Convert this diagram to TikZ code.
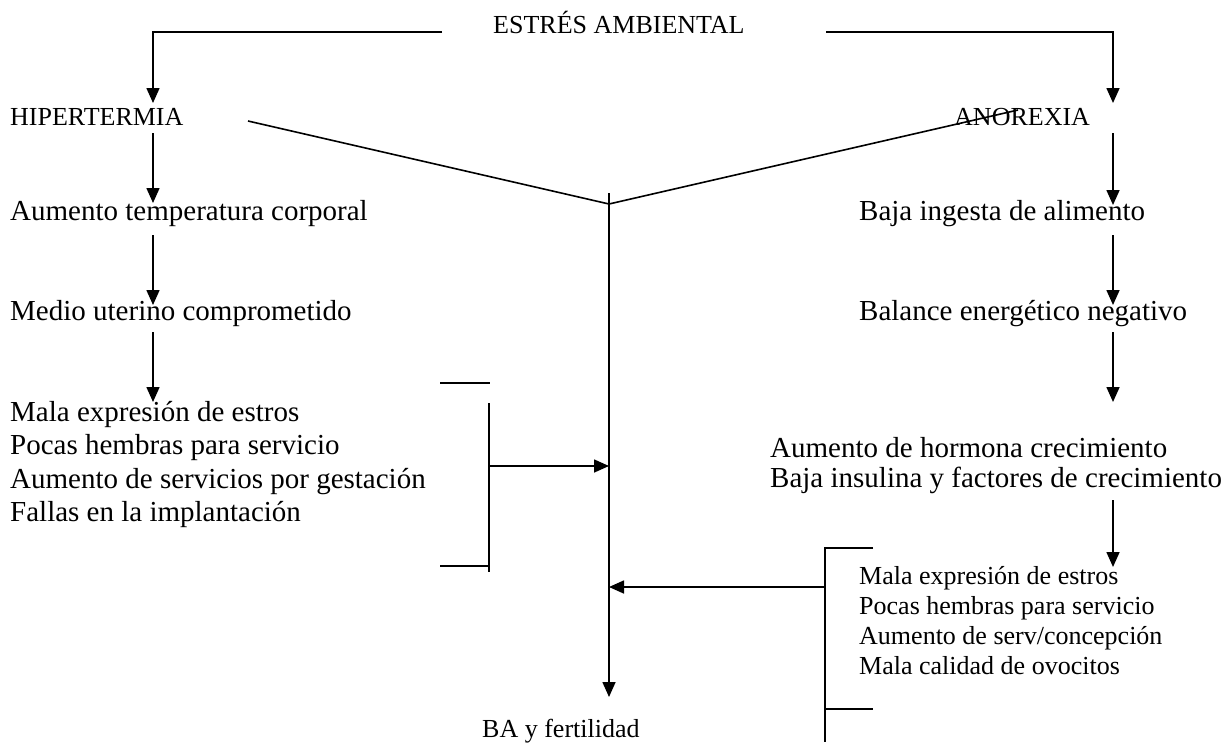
\documentclass[tikz,border=0pt]{standalone}
\usepackage{fontspec}
\setmainfont{Liberation Serif}
\usetikzlibrary{arrows.meta}
\begin{document}
\begin{tikzpicture}[x=1pt,y=-1pt,
  ln/.style={line width=1.6pt},
  arr/.style={ln,-{Triangle[length=15pt,width=13pt]}},
  big/.style={inner sep=0pt,anchor=base west,font=\fontsize{29}{33}\selectfont},
  small/.style={inner sep=0pt,anchor=base west,font=\fontsize{26}{30}\selectfont}]
\useasboundingbox (0,0) rectangle (1230,742);

% texts
\node[small] (estres) at (493,33) {ESTRÉS AMBIENTAL};
\node[small] (hiper) at (10,125) {HIPERTERMIA};
\node[small] (anor) at (954,125) {ANOREXIA};
\node[big] (temp) at (10,220) {Aumento temperatura corporal};
\node[big] (medio) at (10,320) {Medio uterino comprometido};
\node[big] (la) at (10,421) {Mala expresión de estros};
\node[big] (lb) at (10,454) {Pocas hembras para servicio};
\node[big] (lc) at (10,488) {Aumento de servicios por gestación};
\node[big] (ld) at (10,521) {Fallas en la implantación};
\node[big] (ingesta) at (859,220) {Baja ingesta de alimento};
\node[big] (balance) at (859,320) {Balance energético negativo};
\node[big] (horm) at (770,457) {Aumento de hormona crecimiento};
\node[big] (insul) at (770,487) {Baja insulina y factores de crecimiento};
\node[small] (ra) at (859,584) {Mala expresión de estros};
\node[small] (rb) at (859,614) {Pocas hembras para servicio};
\node[small] (rc) at (859,644) {Aumento de serv/concepción};
\node[small] (rd) at (859,674) {Mala calidad de ovocitos};
\node[small] (ba) at (482,737) {BA y fertilidad};

% connector points
\coordinate (eL) at (442,32);
\coordinate (eR) at (826,32);
\coordinate (hT) at (153,103);
\coordinate (aT) at (1113,103);
\coordinate (h1) at (153,133); \coordinate (h1e) at (153,203);
\coordinate (h2) at (153,235); \coordinate (h2e) at (153,305);
\coordinate (h3) at (153,332); \coordinate (h3e) at (153,402);
\coordinate (a1) at (1113,133); \coordinate (a1e) at (1113,205);
\coordinate (a2) at (1113,235); \coordinate (a2e) at (1113,305);
\coordinate (a3) at (1113,332); \coordinate (a3e) at (1113,402);
\coordinate (a4) at (1113,500); \coordinate (a4e) at (1113,567);
\coordinate (dL) at (248,121);
\coordinate (junc) at (609,204);
\coordinate (dR) at (1018,110);
\coordinate (cTop) at (609,193);
\coordinate (cBot) at (609,697);
\coordinate (cL) at (609,466);
\coordinate (cR) at (609,587);
% left bracket
\coordinate (lbT1) at (440,383); \coordinate (lbT2) at (490,383);
\coordinate (lbV1) at (489,403); \coordinate (lbV2) at (489,572);
\coordinate (lbB1) at (440,566); \coordinate (lbB2) at (489,566);
\coordinate (lbM) at (489,466);
% right bracket
\coordinate (rbT) at (873,548); \coordinate (rbC) at (825,548);
\coordinate (rbE) at (825,742);
\coordinate (rbB1) at (825,709); \coordinate (rbB2) at (873,709);
\coordinate (rbM) at (825,587);

% connectors
\draw[arr] (eL) -| (hT);
\draw[arr] (eR) -| (aT);
\draw[arr] (h1) -- (h1e);
\draw[arr] (h2) -- (h2e);
\draw[arr] (h3) -- (h3e);
\draw[arr] (a1) -- (a1e);
\draw[arr] (a2) -- (a2e);
\draw[arr] (a3) -- (a3e);
\draw[arr] (a4) -- (a4e);
\draw[ln] (dL) -- (junc) -- (dR);
\draw[arr] (cTop) -- (cBot);
\draw[ln] (lbT1) -- (lbT2);
\draw[ln] (lbV1) -- (lbV2);
\draw[ln] (lbB1) -- (lbB2);
\draw[arr] (lbM) -- (cL);
\draw[ln] (rbT) -- (rbC) -- (rbE);
\draw[ln] (rbB1) -- (rbB2);
\draw[arr] (rbM) -- (cR);
\end{tikzpicture}
\end{document}
